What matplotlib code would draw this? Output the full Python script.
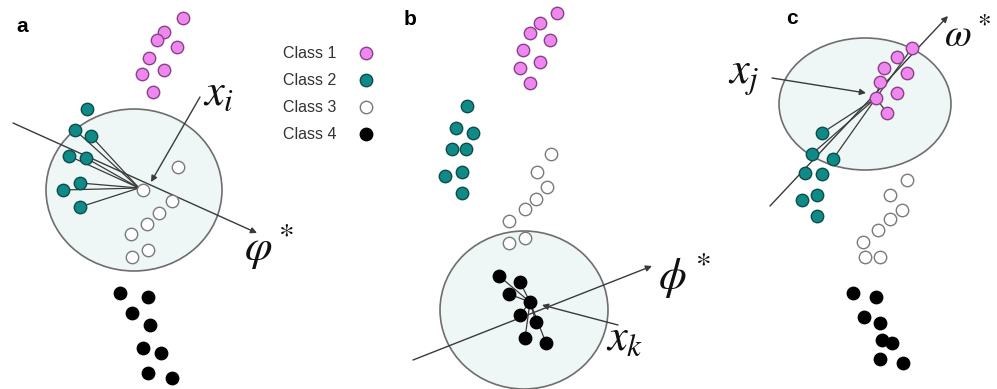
import matplotlib
matplotlib.use("Agg")
import matplotlib.pyplot as plt
from matplotlib.patches import Ellipse

plt.rcParams['mathtext.fontset'] = 'stix'

# ---------------- data (pixel-space positions) ----------
# Panel a
a_class1_x = [183, 164, 157, 177, 149, 164, 142, 153]
a_class1_y = [18, 32, 40, 47, 58, 70, 74, 92]
a_class2_x = [87, 75, 91, 69, 86, 80, 63, 80]
a_class2_y = [109, 130, 136, 156, 158, 183, 190, 207]
a_class3_x = [143, 178, 172, 159, 147, 131, 148, 132]
a_class3_y = [190, 167, 201, 213, 224, 234, 250, 257]
a_class4_x = [120, 148, 132, 150, 143, 161, 148, 172]
a_class4_y = [293, 297, 313, 325, 348, 353, 373, 378]
a_links = [1, 2, 3, 4, 5, 6, 7]          # class-2 points linked to x_i

# Panel b
b_class1_x = [557, 540, 530, 550, 523, 540, 520, 530]
b_class1_y = [13, 23, 33, 40, 50, 62, 68, 83]
b_class2_x = [467, 456, 473, 452, 466, 445, 462, 462]
b_class2_y = [106, 128, 133, 149, 149, 176, 172, 193]
b_class3_x = [551, 537, 547, 536, 525, 509, 509, 525]
b_class3_y = [154, 172, 187, 199, 209, 221, 243, 238]
b_class4_x = [530, 499, 520, 509, 520, 536, 525, 546]
b_class4_y = [302, 276, 282, 294, 315, 322, 338, 343]
b_links = [1, 2, 3, 4, 5, 6, 7]          # class-4 points linked to x_k

# Panel c
c_class1_x = [876, 912, 897, 884, 907, 880, 897, 887]
c_class1_y = [98, 48, 57, 68, 73, 82, 93, 113]
c_class2_x = [822, 812, 833, 805, 822, 802, 817, 817]
c_class2_y = [133, 154, 159, 173, 174, 200, 195, 216]
c_class3_x = [907, 890, 902, 890, 878, 863, 865, 880]
c_class3_y = [180, 195, 210, 219, 230, 242, 257, 257]
c_class4_x = [853, 876, 864, 880, 882, 892, 880, 903]
c_class4_y = [293, 297, 317, 323, 340, 343, 359, 363]
c_links1 = [1, 5, 7]                     # class-1 points linked to x_j
c_links2 = [0, 1, 2]                     # class-2 points linked to x_j

legend_labels = ["Class 1", "Class 2", "Class 3", "Class 4"]
legend_y = [53, 80, 107, 134]

# ---------------- styles -------------------------------------------------
styles = {
    1: dict(fc="#EE88EE", ec="#8A3F8A"),
    2: dict(fc="#108A86", ec="#0A4D4A"),
    3: dict(fc="#FFFFFF", ec="#7A7A7A"),
    4: dict(fc="#000000", ec="#000000"),
}
S = 80
circle_fc = "#EEF6F6"
circle_ec = "#6E6E6E"
line_c = "#3A3A3A"

fig = plt.figure(figsize=(9.97, 3.89), dpi=100)
ax = fig.add_axes([0, 0, 1, 1])
ax.set_xlim(0, 997)
ax.set_ylim(389, 0)
ax.axis("off")


def pts(xs, ys, cls, z=5):
    ax.scatter(xs, ys, s=S, facecolor=styles[cls]["fc"],
               edgecolor=styles[cls]["ec"], linewidths=1.0, zorder=z)


def arrow(x0, y0, x1, y1):
    ax.annotate("", xy=(x1, y1), xytext=(x0, y0),
                arrowprops=dict(arrowstyle="-|>", color=line_c, lw=1.0,
                                mutation_scale=9, shrinkA=0, shrinkB=0),
                zorder=3)


def links(cx, cy, xs, ys, idx):
    for i in idx:
        ax.plot([cx, xs[i]], [cy, ys[i]], color=line_c, lw=0.9, zorder=3)

# ---------------- panel a ----------------
ax.add_patch(Ellipse((134, 190), 176, 162, fc=circle_fc, ec=circle_ec, lw=1.2, zorder=1))
arrow(13, 123, 257, 233)
links(a_class3_x[0] - 4, a_class3_y[0] - 2, a_class2_x, a_class2_y, a_links)
pts(a_class1_x, a_class1_y, 1)
pts(a_class2_x, a_class2_y, 2)
pts(a_class3_x, a_class3_y, 3)
pts(a_class4_x, a_class4_y, 4)
arrow(200, 97, 151, 182)
ax.text(203, 92, r"$x_i$", fontsize=32, ha="left", va="center", color="#111")
ax.text(244, 246, r"$\varphi^*$", fontsize=32, ha="left", va="center", color="#111")
ax.text(16, 26, "a", fontsize=15, fontweight="bold", family="Liberation Sans",
        ha="left", va="center")

# legend
for i, (lab, ly) in enumerate(zip(legend_labels, legend_y)):
    ax.text(283, ly, lab, fontsize=11.5, family="Liberation Sans",
            ha="left", va="center", color="#333")
    pts([366], [ly], i + 1)

# ---------------- panel b ----------------
ax.add_patch(Ellipse((524, 310), 168, 158, fc=circle_fc, ec=circle_ec, lw=1.2, zorder=1))
arrow(413, 360, 652, 266)
links(b_class4_x[0], b_class4_y[0], b_class4_x, b_class4_y, b_links)
pts(b_class1_x, b_class1_y, 1)
pts(b_class2_x, b_class2_y, 2)
pts(b_class3_x, b_class3_y, 3)
pts(b_class4_x, b_class4_y, 4)
arrow(618, 325, 542, 305)
ax.text(606, 338, r"$x_k$", fontsize=32, ha="left", va="center", color="#111")
ax.text(658, 275, r"$\phi^*$", fontsize=32, ha="left", va="center", color="#111")
ax.text(404, 19, "b", fontsize=15, fontweight="bold", family="Liberation Sans",
        ha="left", va="center")

# ---------------- panel c ----------------
ax.add_patch(Ellipse((865, 104), 172, 132, fc=circle_fc, ec=circle_ec, lw=1.2, zorder=1))
arrow(770, 206, 948, 16)
links(c_class1_x[0], c_class1_y[0], c_class1_x, c_class1_y, c_links1)
links(c_class1_x[0], c_class1_y[0], c_class2_x, c_class2_y, c_links2)
pts(c_class1_x, c_class1_y, 1)
pts(c_class2_x, c_class2_y, 2)
pts(c_class3_x, c_class3_y, 3)
pts(c_class4_x, c_class4_y, 4)
arrow(772, 78, 866, 93)
ax.text(728, 75, r"$x_j$", fontsize=32, ha="left", va="center", color="#111")
ax.text(944, 36, r"$\omega^*$", fontsize=28, ha="left", va="center", color="#111")
ax.text(786, 18, "c", fontsize=15, fontweight="bold", family="Liberation Sans",
        ha="left", va="center")

fig.savefig("out.png", dpi=100)
